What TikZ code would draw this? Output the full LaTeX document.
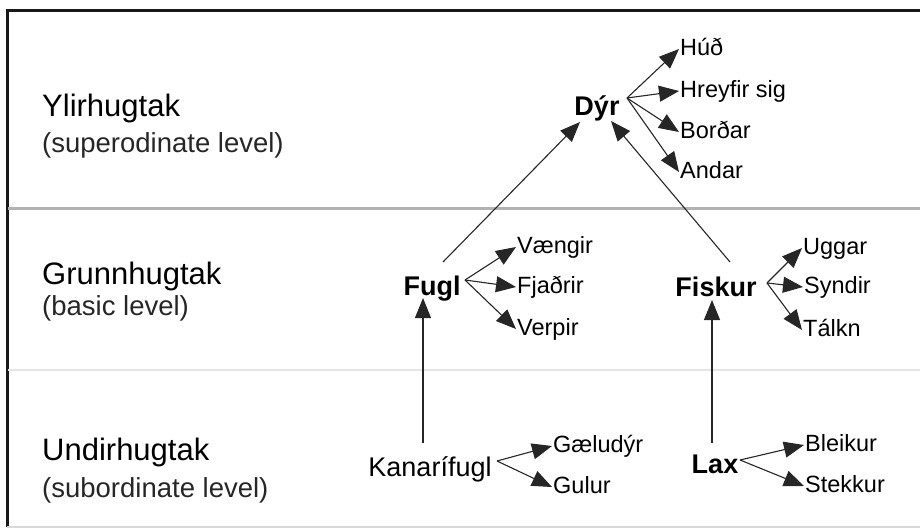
\documentclass[tikz,border=0pt]{standalone}
\usepackage{fontspec}
\setmainfont{Liberation Sans}
\usetikzlibrary{arrows.meta}
\begin{document}
\begin{tikzpicture}[x=1pt,y=-1pt,
  arr/.style={draw=black!85, line width=1.1pt, -{Triangle[length=20pt,width=16pt]}},
  leaf/.style={font=\fontsize{23.5}{28}\selectfont, inner sep=1pt, anchor=west, text height=16pt, text depth=4pt},
  concept/.style={font=\fontsize{27}{32}\selectfont\bfseries, inner sep=1pt, anchor=base},
  conceptn/.style={font=\fontsize{27}{32}\selectfont, inner sep=1pt, anchor=base},
  levelhead/.style={font=\fontsize{31}{36}\selectfont, inner sep=0pt, anchor=base west},
  levelsub/.style={font=\fontsize{27.5}{32}\selectfont, inner sep=0pt, anchor=base west, text=black!85},
]
\useasboundingbox (0,0) rectangle (920,530);
% frame and separators
\draw[line width=3pt, black!90] (920,10) -- (7,10) -- (7,527);
\draw[line width=2pt, black!15] (7,527) -- (920,527);
\draw[line width=3pt, black!30] (8,208) -- (920,208);
\draw[line width=2pt, black!10] (8,370) -- (920,370);

% level labels
\node[levelhead] (l1) at (42,116) {Ylirhugtak};
\node[levelsub]  (l1s) at (42,152) {(superodinate level)};
\node[levelhead] (l2) at (42,284) {Grunnhugtak};
\node[levelsub]  (l2s) at (42,315) {(basic level)};
\node[levelhead] (l3) at (42,460) {Undirhugtak};
\node[levelsub]  (l3s) at (42,497) {(subordinate level)};

% concepts
\node[concept] (dyr) at (597,115) {Dýr};
\node[concept] (fugl) at (432,295) {Fugl};
\node[concept] (fiskur) at (716,296) {Fiskur};
\node[conceptn] (kanari) at (430,476) {Kanarífugl};
\node[concept] (lax) at (715,473) {Lax};

% leaves
\node[leaf] (hud) at (679,49) {Húð};
\node[leaf] (hreyfir) at (679,91) {Hreyfir sig};
\node[leaf] (bordar) at (679,132) {Borðar};
\node[leaf] (andar) at (679,172) {Andar};

\node[leaf] (vaengir) at (516,247) {Vængir};
\node[leaf] (fjadrir) at (516,287) {Fjaðrir};
\node[leaf] (verpir) at (516,329) {Verpir};

\node[leaf] (uggar) at (802,248) {Uggar};
\node[leaf] (syndir) at (803,287) {Syndir};
\node[leaf] (talkn) at (802,330) {Tálkn};

\node[leaf] (gaeludyr) at (552,446) {Gæludýr};
\node[leaf] (gulur) at (552,487) {Gulur};

\node[leaf] (bleikur) at (804,445) {Bleikur};
\node[leaf] (stekkur) at (804,486) {Stekkur};

% fan-out points
\coordinate (dyrR) at (627,98);
\coordinate (fuglR) at (465,280);
\coordinate (fiskurR) at (767,283);
\coordinate (kanariR) at (497,461);
\coordinate (laxR) at (740,460);

% upward connectors
\coordinate (fuglT) at (443,262);
\coordinate (fiskurT) at (730,262);
\coordinate (dyrSW) at (580,122);
\coordinate (dyrSE) at (611,121);
\coordinate (kanariT) at (423,443);
\coordinate (laxT) at (712,443);
\coordinate (fuglB) at (423,298);
\coordinate (fiskurB) at (712,300);

\draw[arr] (fuglT) -- (dyrSW);
\draw[arr] (fiskurT) -- (dyrSE);
\draw[arr] (kanariT) -- (fuglB);
\draw[arr] (laxT) -- (fiskurB);

% fans
\foreach \t in {hud,hreyfir,bordar,andar} \draw[arr] (dyrR) -- (\t.west);
\foreach \t in {vaengir,fjadrir,verpir} \draw[arr] (fuglR) -- (\t.west);
\foreach \t in {uggar,syndir,talkn} \draw[arr] (fiskurR) -- (\t.west);
\foreach \t in {gaeludyr,gulur} \draw[arr] (kanariR) -- (\t.west);
\foreach \t in {bleikur,stekkur} \draw[arr] (laxR) -- (\t.west);
\end{tikzpicture}
\end{document}
